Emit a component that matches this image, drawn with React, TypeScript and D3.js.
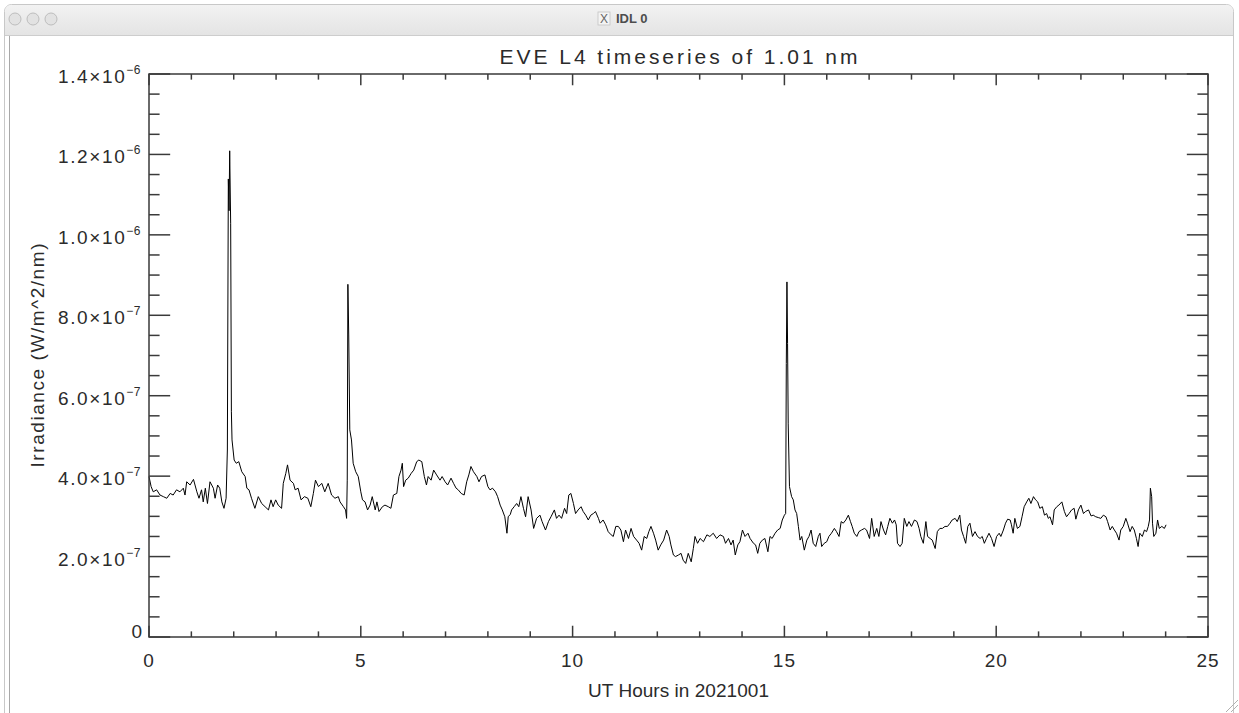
import React from 'react';
import * as d3 from 'd3';

// UT hours of each sample
const hours = [
  0.00, 0.05, 0.10, 0.18, 0.26, 0.34, 0.42, 0.50, 0.57, 0.65, 0.73, 0.81, 0.85, 0.89, 0.97,
  1.05, 1.13, 1.18, 1.24, 1.28, 1.33, 1.38, 1.44, 1.52, 1.56, 1.62, 1.67, 1.72, 1.77, 1.82,
  1.85, 1.873, 1.89, 1.905, 1.928, 1.945, 1.96, 2.01, 2.06, 2.12, 2.19, 2.27, 2.31, 2.36, 2.42,
  2.50, 2.58, 2.66, 2.74, 2.82, 2.88, 2.93, 2.99, 3.05, 3.13, 3.17, 3.23, 3.27, 3.33, 3.41,
  3.45, 3.52, 3.59, 3.67, 3.75, 3.82, 3.88, 3.93, 4.00, 4.08, 4.15, 4.23, 4.31, 4.39, 4.47,
  4.51, 4.59, 4.64, 4.665, 4.68, 4.695, 4.715, 4.74, 4.78, 4.82, 4.88, 4.94, 5.00, 5.04, 5.10,
  5.16, 5.22, 5.27, 5.34, 5.38, 5.43, 5.51, 5.57, 5.65, 5.71, 5.77, 5.85, 5.90, 5.95, 5.98,
  6.01, 6.06, 6.12, 6.19, 6.25, 6.32, 6.37, 6.44, 6.50, 6.55, 6.59, 6.66, 6.72, 6.79, 6.87,
  6.92, 6.99, 7.05, 7.13, 7.19, 7.25, 7.30, 7.37, 7.44, 7.50, 7.55, 7.60, 7.66, 7.74, 7.79,
  7.85, 7.93, 8.00, 8.05, 8.11, 8.18, 8.23, 8.29, 8.34, 8.40, 8.45, 8.48, 8.53, 8.56, 8.62,
  8.68, 8.73, 8.78, 8.84, 8.89, 8.95, 9.02, 9.08, 9.15, 9.23, 9.28, 9.36, 9.43, 9.49, 9.57,
  9.62, 9.68, 9.74, 9.81, 9.86, 9.91, 9.96, 10.02, 10.07, 10.13, 10.20, 10.25, 10.31, 10.37, 10.43,
  10.49, 10.54, 10.61, 10.65, 10.72, 10.78, 10.84, 10.91, 10.96, 11.02, 11.08, 11.14, 11.20, 11.25, 11.32,
  11.38, 11.44, 11.51, 11.57, 11.63, 11.69, 11.75, 11.80, 11.85, 11.91, 11.96, 12.02, 12.08, 12.15, 12.22,
  12.28, 12.32, 12.38, 12.43, 12.50, 12.56, 12.61, 12.67, 12.73, 12.80, 12.85, 12.89, 12.95, 13.01, 13.09,
  13.17, 13.24, 13.32, 13.40, 13.48, 13.56, 13.61, 13.68, 13.74, 13.79, 13.84, 13.90, 13.95, 14.01, 14.07,
  14.14, 14.19, 14.27, 14.32, 14.37, 14.42, 14.48, 14.54, 14.61, 14.66, 14.71, 14.78, 14.84, 14.90, 14.95,
  15.00, 15.03, 15.045, 15.06, 15.075, 15.09, 15.12, 15.17, 15.21, 15.25, 15.29, 15.33, 15.37, 15.41, 15.47,
  15.53, 15.58, 15.63, 15.68, 15.74, 15.80, 15.84, 15.88, 15.94, 16.00, 16.05, 16.11, 16.18, 16.23, 16.29,
  16.34, 16.39, 16.45, 16.51, 16.56, 16.60, 16.65, 16.71, 16.76, 16.82, 16.89, 16.94, 17.01, 17.06, 17.12,
  17.18, 17.23, 17.28, 17.34, 17.39, 17.44, 17.49, 17.55, 17.60, 17.64, 17.67, 17.73, 17.78, 17.83, 17.89,
  17.94, 18.00, 18.07, 18.13, 18.18, 18.22, 18.28, 18.34, 18.38, 18.44, 18.49, 18.56, 18.61, 18.67, 18.73,
  18.79, 18.85, 18.91, 18.96, 19.03, 19.08, 19.14, 19.18, 19.23, 19.28, 19.33, 19.38, 19.44, 19.50, 19.56,
  19.62, 19.67, 19.72, 19.77, 19.83, 19.89, 19.95, 20.01, 20.07, 20.11, 20.17, 20.22, 20.27, 20.33, 20.36,
  20.40, 20.44, 20.50, 20.56, 20.61, 20.66, 20.72, 20.77, 20.82, 20.88, 20.93, 20.98, 21.03, 21.09, 21.14,
  21.19, 21.23, 21.27, 21.33, 21.37, 21.43, 21.48, 21.55, 21.61, 21.66, 21.72, 21.78, 21.84, 21.88, 21.94,
  22.00, 22.06, 22.11, 22.18, 22.24, 22.29, 22.35, 22.41, 22.47, 22.53, 22.59, 22.63, 22.69, 22.74, 22.79,
  22.84, 22.90, 22.94, 23.00, 23.06, 23.10, 23.16, 23.21, 23.26, 23.31, 23.35, 23.39, 23.45, 23.50, 23.55,
  23.59, 23.62, 23.64, 23.67, 23.69, 23.72, 23.77, 23.81, 23.85, 23.91, 23.97, 24.01
];

// irradiance in units of 1e-7 W/m^2/nm
const irradiance = [
  3.99, 3.74, 3.61, 3.66, 3.53, 3.49, 3.45, 3.57, 3.53, 3.66, 3.61, 3.70, 3.53, 3.86, 3.78,
  3.92, 3.61, 3.45, 3.66, 3.36, 3.70, 3.32, 3.86, 3.70, 3.45, 3.78, 3.70, 3.36, 3.20, 3.45,
  4.65, 11.39, 10.6, 12.09, 10.29, 5.60, 4.90, 4.40, 4.32, 4.36, 4.11, 3.99, 3.70, 3.66, 3.45,
  3.20, 3.49, 3.32, 3.24, 3.16, 3.41, 3.24, 3.41, 3.28, 3.20, 3.82, 4.07, 4.28, 3.90, 3.82,
  3.66, 3.70, 3.41, 3.49, 3.45, 3.24, 3.57, 3.90, 3.74, 3.82, 3.61, 3.82, 3.53, 3.45, 3.49,
  3.36, 3.24, 3.16, 2.95, 3.90, 8.77, 7.51, 5.15, 4.90, 4.32, 4.11, 3.99, 3.61, 3.41, 3.36,
  3.16, 3.28, 3.49, 3.16, 3.36, 3.12, 3.24, 3.28, 3.24, 3.20, 3.53, 3.57, 3.99, 4.15, 4.32,
  3.74, 3.90, 3.95, 4.07, 4.15, 4.36, 4.40, 4.36, 3.99, 3.78, 3.99, 3.90, 4.15, 4.03, 3.90,
  3.99, 3.86, 3.78, 3.95, 3.82, 3.70, 3.66, 3.57, 3.53, 3.86, 4.03, 4.24, 4.11, 3.99, 3.86,
  3.99, 4.03, 3.74, 3.66, 3.70, 3.61, 3.49, 3.28, 3.16, 2.99, 2.58, 2.99, 3.05, 3.16, 3.24,
  3.32, 3.24, 3.49, 3.20, 2.99, 3.49, 3.16, 2.70, 2.95, 3.03, 2.87, 2.66, 2.87, 2.99, 3.16,
  2.95, 3.03, 2.95, 3.20, 3.07, 3.53, 3.57, 3.32, 3.07, 3.16, 3.24, 3.12, 3.03, 2.91, 3.03,
  3.07, 3.12, 2.95, 2.83, 2.91, 2.79, 2.62, 2.54, 2.50, 2.75, 2.75, 2.66, 2.37, 2.66, 2.45,
  2.70, 2.50, 2.41, 2.33, 2.16, 2.50, 2.45, 2.62, 2.75, 2.58, 2.41, 2.16, 2.29, 2.41, 2.66,
  2.50, 2.29, 2.04, 2.00, 2.04, 2.08, 1.91, 1.83, 2.08, 1.87, 2.20, 2.50, 2.33, 2.45, 2.37,
  2.54, 2.50, 2.58, 2.45, 2.54, 2.50, 2.33, 2.45, 2.29, 2.41, 2.04, 2.29, 2.37, 2.66, 2.50,
  2.58, 2.45, 2.33, 2.29, 2.08, 2.33, 2.41, 2.45, 2.12, 2.50, 2.45, 2.58, 2.66, 2.70, 2.91,
  3.03, 3.07, 6.80, 8.83, 7.30, 5.30, 3.74, 3.49, 3.41, 3.16, 3.07, 2.75, 2.41, 2.50, 2.16,
  2.41, 2.50, 2.66, 2.33, 2.25, 2.50, 2.58, 2.25, 2.33, 2.37, 2.50, 2.58, 2.70, 2.62, 2.50,
  2.87, 2.83, 2.91, 3.03, 2.87, 2.75, 2.58, 2.50, 2.62, 2.66, 2.70, 2.66, 2.45, 2.95, 2.50,
  2.70, 2.50, 2.87, 2.66, 2.54, 2.75, 2.95, 2.83, 2.91, 2.79, 2.33, 2.25, 2.33, 2.95, 2.75,
  2.87, 2.75, 2.91, 2.87, 2.70, 2.50, 2.33, 2.87, 2.50, 2.45, 2.41, 2.20, 2.62, 2.70, 2.70,
  2.75, 2.75, 2.83, 2.91, 2.95, 2.87, 3.03, 2.66, 2.50, 2.33, 2.75, 2.83, 2.50, 2.62, 2.50,
  2.45, 2.50, 2.33, 2.45, 2.58, 2.45, 2.25, 2.50, 2.58, 2.50, 2.66, 2.83, 2.93, 2.91, 2.79,
  2.58, 2.95, 2.70, 2.75, 2.99, 3.24, 3.36, 3.45, 3.32, 3.49, 3.41, 3.36, 3.20, 3.24, 3.03,
  3.07, 2.95, 2.99, 2.79, 3.16, 3.24, 3.28, 3.36, 3.12, 2.99, 3.07, 3.16, 3.20, 2.93, 3.16,
  3.28, 3.07, 3.12, 3.16, 3.01, 3.03, 2.99, 2.97, 2.95, 3.03, 2.99, 2.87, 2.66, 2.75, 2.66,
  2.58, 2.41, 2.66, 2.75, 2.95, 2.83, 2.62, 2.75, 2.66, 2.45, 2.25, 2.58, 2.50, 2.66, 2.62,
  2.75, 2.91, 3.70, 3.49, 2.83, 2.50, 2.58, 2.91, 2.70, 2.75, 2.70, 2.79
];

const xMajorTicks = [0, 5, 10, 15, 20, 25];
const xMinorTicks = d3.range(0, 26, 1);
const yMajorTicks = [0, 2e-7, 4e-7, 6e-7, 8e-7, 1.0e-6, 1.2e-6, 1.4e-6];
const yMinorTicks = d3.range(0, 29).map(i => i * 5e-8);

const titleText = 'EVE L4 timeseries of 1.01 nm';
const xTitle = 'UT Hours in 2021001';
const yTitle = 'Irradiance (W/m^2/nm)';
const windowTitle = 'IDL 0';

const W = 1239, H = 713;
const FONT = '"Liberation Sans", Arial, sans-serif';
const AXIS = '#3a3a3a';
const INK = '#2b2b2b';

function splitLabel(v: number) {
  if (v === 0) return { mant: '0', exp: null as number | null };
  const e = Math.floor(Math.log10(v) + 1e-9);
  const m = v / Math.pow(10, e);
  return { mant: m.toFixed(1) + '\u00d710', exp: e };
}

export default function App() {
  const margin = { left: 149, right: W - 1208, top: 74, bottom: H - 637 };
  const x = d3.scaleLinear().domain([0, 25]).range([margin.left, W - margin.right]);
  const y = d3.scaleLinear().domain([0, 1.4e-6]).range([H - margin.bottom, margin.top]);

  const data = hours.map((h, i) => ({ h, v: irradiance[i] * 1e-7 }));
  const line = d3.line<{ h: number; v: number }>()
    .x(d => x(d.h))
    .y(d => y(d.v));

  const x0 = x(0), x1 = x(25), y0 = y(0), y1 = y(1.4e-6);
  const plotW = x1 - x0, plotH = y0 - y1;
  const yMajLen = 0.02 * plotW, yMinLen = yMajLen / 2;
  const xMajLen = 0.02 * plotH, xMinLen = xMajLen / 2;

  return (
    <div style={{ position: 'absolute', left: 0, top: 0, width: W, height: H, background: '#fff' }}>
      <svg width={W} height={H} fontFamily={FONT}>
        {/* window frame */}
        <defs>
          <linearGradient id="tb" x1="0" y1="0" x2="0" y2="1">
            <stop offset="0" stopColor="#f2f2f2" />
            <stop offset="1" stopColor="#e4e4e4" />
          </linearGradient>
        </defs>
        <rect x={4.5} y={4.5} width={1229} height={760} rx={7} fill="#fff" stroke="#c8c8c8" />
        <path d="M5,35 L5,12 Q5,5 12,5 L1226,5 Q1233,5 1233,12 L1233,35 Z" fill="url(#tb)" />
        <line x1={5} x2={1233} y1={35.5} y2={35.5} stroke="#cdcdcd" />
        <line x1={9.5} x2={9.5} y1={36} y2={H} stroke="#a8a8a8" />
        {[15, 33, 51].map(cx => (
          <circle key={cx} cx={cx} cy={19} r={6} fill="#e2e2e2" stroke="#bdbdbd" />
        ))}
        <g transform="translate(598,12)">
          <rect x={0} y={0} width={12} height={13} fill="#f4f4f4" stroke="#c4c4c4" strokeWidth={0.8} />
          <text x={6} y={11} textAnchor="middle" fontSize={12} fill="#666">X</text>
        </g>
        <text x={616} y={23} fontSize={13} fontWeight="bold" fill="#4d4d4d">{windowTitle}</text>

        {/* plot title */}
        <text x={(x0 + x1) / 2} y={64} textAnchor="middle" fontSize={21} fill={INK}
          textLength={358} lengthAdjust="spacing">{titleText}</text>

        {/* data */}
        <path d={line(data) || ''} fill="none" stroke="#000" strokeWidth={1} />

        {/* box */}
        <rect x={x0} y={y1} width={plotW} height={plotH} fill="none" stroke={AXIS} strokeWidth={1.5} />

        {/* x ticks: bottom and top, inward */}
        {xMinorTicks.map(t => {
          const len = xMajorTicks.includes(t) ? xMajLen : xMinLen;
          return (
            <g key={'xt' + t} stroke={AXIS} strokeWidth={1.5}>
              <line x1={x(t)} x2={x(t)} y1={y0} y2={y0 - len} />
              <line x1={x(t)} x2={x(t)} y1={y1} y2={y1 + len} />
            </g>
          );
        })}
        {/* y ticks: left and right, inward */}
        {yMinorTicks.map((t, i) => {
          const len = i % 4 === 0 ? yMajLen : yMinLen;
          return (
            <g key={'yt' + i} stroke={AXIS} strokeWidth={1.5}>
              <line x1={x0} x2={x0 + len} y1={y(t)} y2={y(t)} />
              <line x1={x1} x2={x1 - len} y1={y(t)} y2={y(t)} />
            </g>
          );
        })}

        {/* x tick labels */}
        {xMajorTicks.map(t => (
          <text key={'xl' + t} x={x(t)} y={y0 + 30} textAnchor="middle" fontSize={19} fill={INK}
            letterSpacing={1}>{t}</text>
        ))}
        {/* y tick labels */}
        {yMajorTicks.map(t => {
          const { mant, exp } = splitLabel(t);
          if (exp === null) {
            return <text key={'yl' + t} x={x0 - 7} y={y(t) + 1} textAnchor="end" fontSize={19} fill={INK}>{mant}</text>;
          }
          return (
            <text key={'yl' + t} x={x0 - 8} y={y(t) + 9} textAnchor="end" fontSize={19} fill={INK}
              letterSpacing={1.6}>
              {mant}
              <tspan fontSize={12} dy={-9} letterSpacing={0.5}>{'\u2212' + Math.abs(exp)}</tspan>
            </text>
          );
        })}

        {/* axis titles */}
        <text x={(x0 + x1) / 2} y={697} textAnchor="middle" fontSize={19} fill={INK}
          textLength={181} lengthAdjust="spacing">{xTitle}</text>
        <text transform={`translate(44,${(y0 + y1) / 2}) rotate(-90)`} textAnchor="middle" fontSize={19} fill={INK}
          textLength={224} lengthAdjust="spacing">{yTitle}</text>

        {/* resize grip */}
        <g stroke="#b0b0b0" strokeWidth={1}>
          <line x1={1226} y1={712} x2={1238} y2={700} />
          <line x1={1231} y1={712} x2={1238} y2={705} />
        </g>
      </svg>
    </div>
  );
}
